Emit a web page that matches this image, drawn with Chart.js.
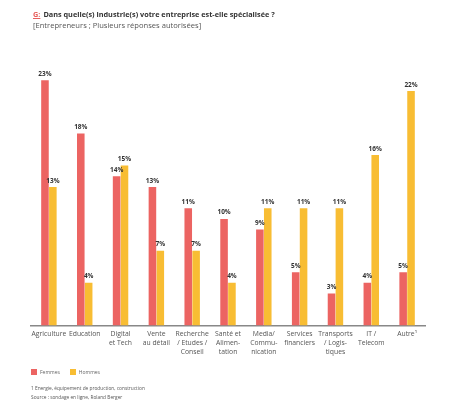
<!DOCTYPE html>
<html lang="fr">
<head>
<meta charset="utf-8">
<script src="https://cdn.jsdelivr.net/npm/chart.js@4.4.0/dist/chart.umd.min.js"></script>
<style>
  html, body { margin: 0; padding: 0; background: #fff; }
  body { width: 460px; height: 403px; position: relative; overflow: hidden; font-family: "Open Sans", sans-serif; }
  #chartBox { position: absolute; left: 0; top: 0; width: 460px; height: 403px; }
  .title { position: absolute; left: 33px; top: 9px; font-size: 7.3px; font-weight: bold; color: #333; white-space: nowrap; }
  .title .tag { color: #e8605e; text-decoration: underline; margin-right: 3px; }
  .subtitle { position: absolute; left: 33px; top: 20px; font-size: 7.6px; color: #555; white-space: nowrap; }
  .legend { position: absolute; left: 31px; top: 369px; font-size: 5px; color: #666; display: flex; align-items: center; }
  .legend span.sw { display: inline-block; width: 6px; height: 6px; margin-right: 3px; }
  .legend .item { display: flex; align-items: center; margin-right: 10px; }
  .note { position: absolute; left: 31px; font-size: 4.8px; color: #555; white-space: nowrap; }
</style>
</head>
<body>
<div id="chartBox"><canvas id="chart"></canvas></div>
<div class="title"><span class="tag">G:</span>Dans quelle(s) industrie(s) votre entreprise est-elle spécialisée ?</div>
<div class="subtitle">[Entrepreneurs ; Plusieurs réponses autorisées]</div>
<div class="legend">
  <div class="item"><span class="sw" style="background:#ec6462"></span>Femmes</div>
  <div class="item"><span class="sw" style="background:#f8bd33"></span>Hommes</div>
</div>
<div class="note" style="top:385px">1 Energie, équipement de production, construction</div>
<div class="note" style="top:394px">Source : sondage en ligne, Roland Berger</div>

<script>
// categories + values
const categories = [
  "Agriculture", "Education", ["Digital", "et Tech"], ["Vente", "au détail"],
  ["Recherche", "/ Etudes /", "Conseil"], ["Santé et", "Alimen-", "tation"],
  ["Media/", "Commu-", "nication"], ["Services", "financiers"],
  ["Transports", "/ Logis-", "tiques"], ["IT /", "Telecom"], "Autre¹"
];
const femmes = [23, 18, 14, 13, 11, 10, 9, 5, 3, 4, 5];
const hommes = [13, 4, 15, 7, 7, 4, 11, 11, 11, 16, 22];

const RED = "#ec6462";
const YELLOW = "#f8bd33";

// value labels on top of each bar
const barLabels = {
  id: "barLabels",
  afterDatasetsDraw(chart) {
    const ctx = chart.ctx;
    ctx.save();
    ctx.font = "bold 6.5px 'Open Sans', sans-serif";
    ctx.fillStyle = "#333";
    ctx.textAlign = "center";
    ctx.textBaseline = "bottom";
    chart.data.datasets.forEach((ds, i) => {
      chart.getDatasetMeta(i).data.forEach((bar, j) => {
        ctx.fillText(ds.data[j] + "%", bar.x, bar.y - 3);
      });
    });
    ctx.restore();
  }
};

new Chart(document.getElementById("chart"), {
  type: "bar",
  data: {
    labels: categories,
    datasets: [
      { label: "Femmes", data: femmes, backgroundColor: RED },
      { label: "Hommes", data: hommes, backgroundColor: YELLOW }
    ]
  },
  options: {
    responsive: true,
    maintainAspectRatio: false,
    animation: false,
    categoryPercentage: 0.44,
    barPercentage: 0.96,
    layout: { padding: { left: 31, right: 35, top: 59, bottom: 43 } },
    plugins: { legend: { display: false }, tooltip: { enabled: false } },
    scales: {
      x: {
        grid: { display: false, drawTicks: false },
        border: { display: true, color: "#888", width: 1.5 },
        ticks: {
          color: "#555",
          font: { family: "'Open Sans', sans-serif", size: 6.8, lineHeight: 1.3 },
          padding: 4,
          maxRotation: 0,
          autoSkip: false
        }
      },
      y: {
        display: false,
        min: 0,
        max: 25
      }
    }
  },
  plugins: [barLabels]
});
</script>
</body>
</html>
